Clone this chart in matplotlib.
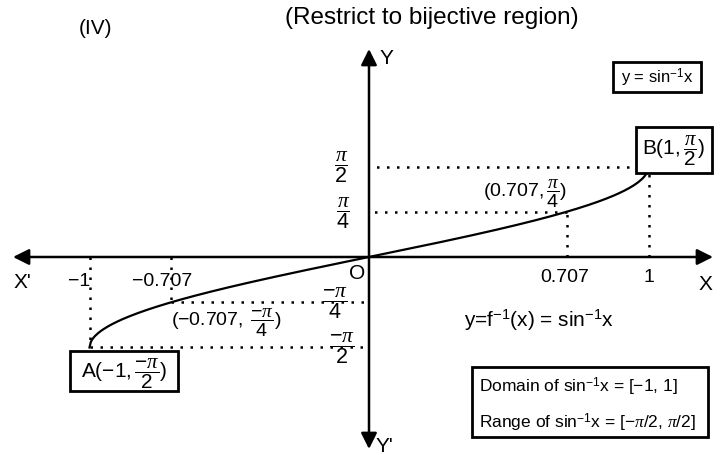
import numpy as np
import matplotlib
matplotlib.use("Agg")
import matplotlib.pyplot as plt
from matplotlib.patches import Rectangle

# values of the diagram
x_marks = [-1, -0.707, 0.707, 1]
x_labels = ['\u22121', '\u22120.707', '0.707', '1']
y_marks = [np.pi / 2, np.pi / 4, -np.pi / 4, -np.pi / 2]
y_labels = [r'$\dfrac{\pi}{2}$', r'$\dfrac{\pi}{4}$', r'$\dfrac{-\pi}{4}$', r'$\dfrac{-\pi}{2}$']
pt_x = [0.707, -0.707]
pt_y = [np.pi / 4, -np.pi / 4]
pt_labels = [r'$(0.707,\dfrac{\pi}{4})$', r'$(-0.707,\ \dfrac{-\pi}{4})$']
curve_x = np.linspace(-1, 1, 401)

plt.rcParams['font.family'] = ['Liberation Sans', 'DejaVu Sans']
plt.rcParams['mathtext.fontset'] = 'custom'
plt.rcParams['mathtext.rm'] = 'Liberation Sans'
plt.rcParams['mathtext.it'] = 'Liberation Serif:italic'
plt.rcParams['mathtext.bf'] = 'Liberation Sans:bold'

W, H = 723, 456
fig = plt.figure(figsize=(W / 100, H / 100), dpi=100)
ax = fig.add_axes([0, 0, 1, 1])
# origin sits at pixel (369, 258)
sx, sy = 279.5, 57.6
ax.set_xlim(-369 / sx, (W - 369) / sx)
ax.set_ylim(-(H - 258) / sy, 258 / sy)
ax.axis('off')


def px(x, y):
    return (x / W, 1 - y / H)


# axes with arrows
arr = dict(arrowstyle='<|-|>,head_length=0.8,head_width=0.4', color='k', lw=1.8,
           mutation_scale=12, shrinkA=0, shrinkB=0)
ax.annotate('', xy=px(13, 258), xytext=px(713, 258), xycoords='axes fraction',
            textcoords='axes fraction', arrowprops=arr)
ax.annotate('', xy=px(369, 50), xytext=px(369, 450), xycoords='axes fraction',
            textcoords='axes fraction', arrowprops=arr)

# curve
ax.plot(curve_x, np.arcsin(curve_x), color='k', lw=1.6, zorder=3)

# dotted guides
dot = dict(color='k', lw=1.8, linestyle=(0, (1, 3)), zorder=2)
for xm, ym in [(1, np.pi / 2), (0.707, np.pi / 4), (-0.707, -np.pi / 4), (-1, -np.pi / 2)]:
    ax.plot([xm, xm], [0, ym], **dot)
    ax.plot([xm, 0], [ym, ym], **dot)

# tick labels
x_off = [(-10, -24), (-9, -24), (-2, -20), (0, -20)]
for xm, lab, (dx, dy) in zip(x_marks, x_labels, x_off):
    ax.annotate(lab, xy=(xm, 0), xytext=(dx, dy), textcoords='offset pixels',
                ha='center', va='center', fontsize=14)
y_off = [-28, -26, -34, -27]
for ym, lab, dx in zip(y_marks, y_labels, y_off):
    ax.annotate(lab, xy=(0, ym), xytext=(dx, 0), textcoords='offset pixels',
                ha='center', va='center', fontsize=15.5)

# point labels
ax.annotate(pt_labels[0], xy=(pt_x[0], pt_y[0]), xytext=(-42, 19), textcoords='offset pixels',
            ha='center', va='center', fontsize=14)
ax.annotate(pt_labels[1], xy=(pt_x[1], pt_y[1]), xytext=(55, -20), textcoords='offset pixels',
            ha='center', va='center', fontsize=14)

# axis names and headings
ax.text(*px(380, 58), 'Y', ha='left', va='center', fontsize=15, transform=ax.transAxes)
ax.text(*px(376, 447), "Y'", ha='left', va='center', fontsize=15, transform=ax.transAxes)
ax.text(*px(22, 282), "X'", ha='center', va='center', fontsize=15, transform=ax.transAxes)
ax.text(*px(705, 285), 'X', ha='center', va='center', fontsize=15, transform=ax.transAxes)
ax.text(*px(357, 274), 'O', ha='center', va='center', fontsize=15, transform=ax.transAxes)
ax.text(*px(96, 28), '(IV)', ha='center', va='center', fontsize=15, transform=ax.transAxes)
ax.text(*px(432, 18), '(Restrict to bijective region)', ha='center', va='center',
        fontsize=17.5, transform=ax.transAxes)
ax.text(*px(539, 320), r'y=f$^{-1}$(x) = sin$^{-1}$x', ha='center', va='center',
        fontsize=15, transform=ax.transAxes)

# boxes
def box(x0, y0, x1, y1):
    ax.add_patch(Rectangle(px(x0, y1), (x1 - x0) / W, (y1 - y0) / H, transform=ax.transAxes,
                           facecolor='white', edgecolor='k', lw=2, zorder=4))


box(613, 63, 701, 93)
ax.text(*px(657, 78), r'y = sin$^{-1}$x', ha='center', va='center', fontsize=12,
        transform=ax.transAxes, zorder=5)
box(636, 128, 712, 174)
ax.text(*px(674, 151), r'B$(1,\dfrac{\pi}{2})$', ha='center', va='center', fontsize=15,
        transform=ax.transAxes, zorder=5)
box(70, 352, 178, 392)
ax.text(*px(124, 374), r'A$(-1,\dfrac{-\pi}{2})$', ha='center', va='center', fontsize=15,
        transform=ax.transAxes, zorder=5)
box(472, 368, 708, 438)
ax.text(*px(479, 387), r'Domain of sin$^{-1}$x = [$-$1, 1]', ha='left', va='center',
        fontsize=12.5, transform=ax.transAxes, zorder=5)
ax.text(*px(479, 423), r'Range of sin$^{-1}$x = [$-\pi$/2, $\pi$/2]', ha='left', va='center',
        fontsize=12.5, transform=ax.transAxes, zorder=5)

fig.savefig('out.png', dpi=100)
